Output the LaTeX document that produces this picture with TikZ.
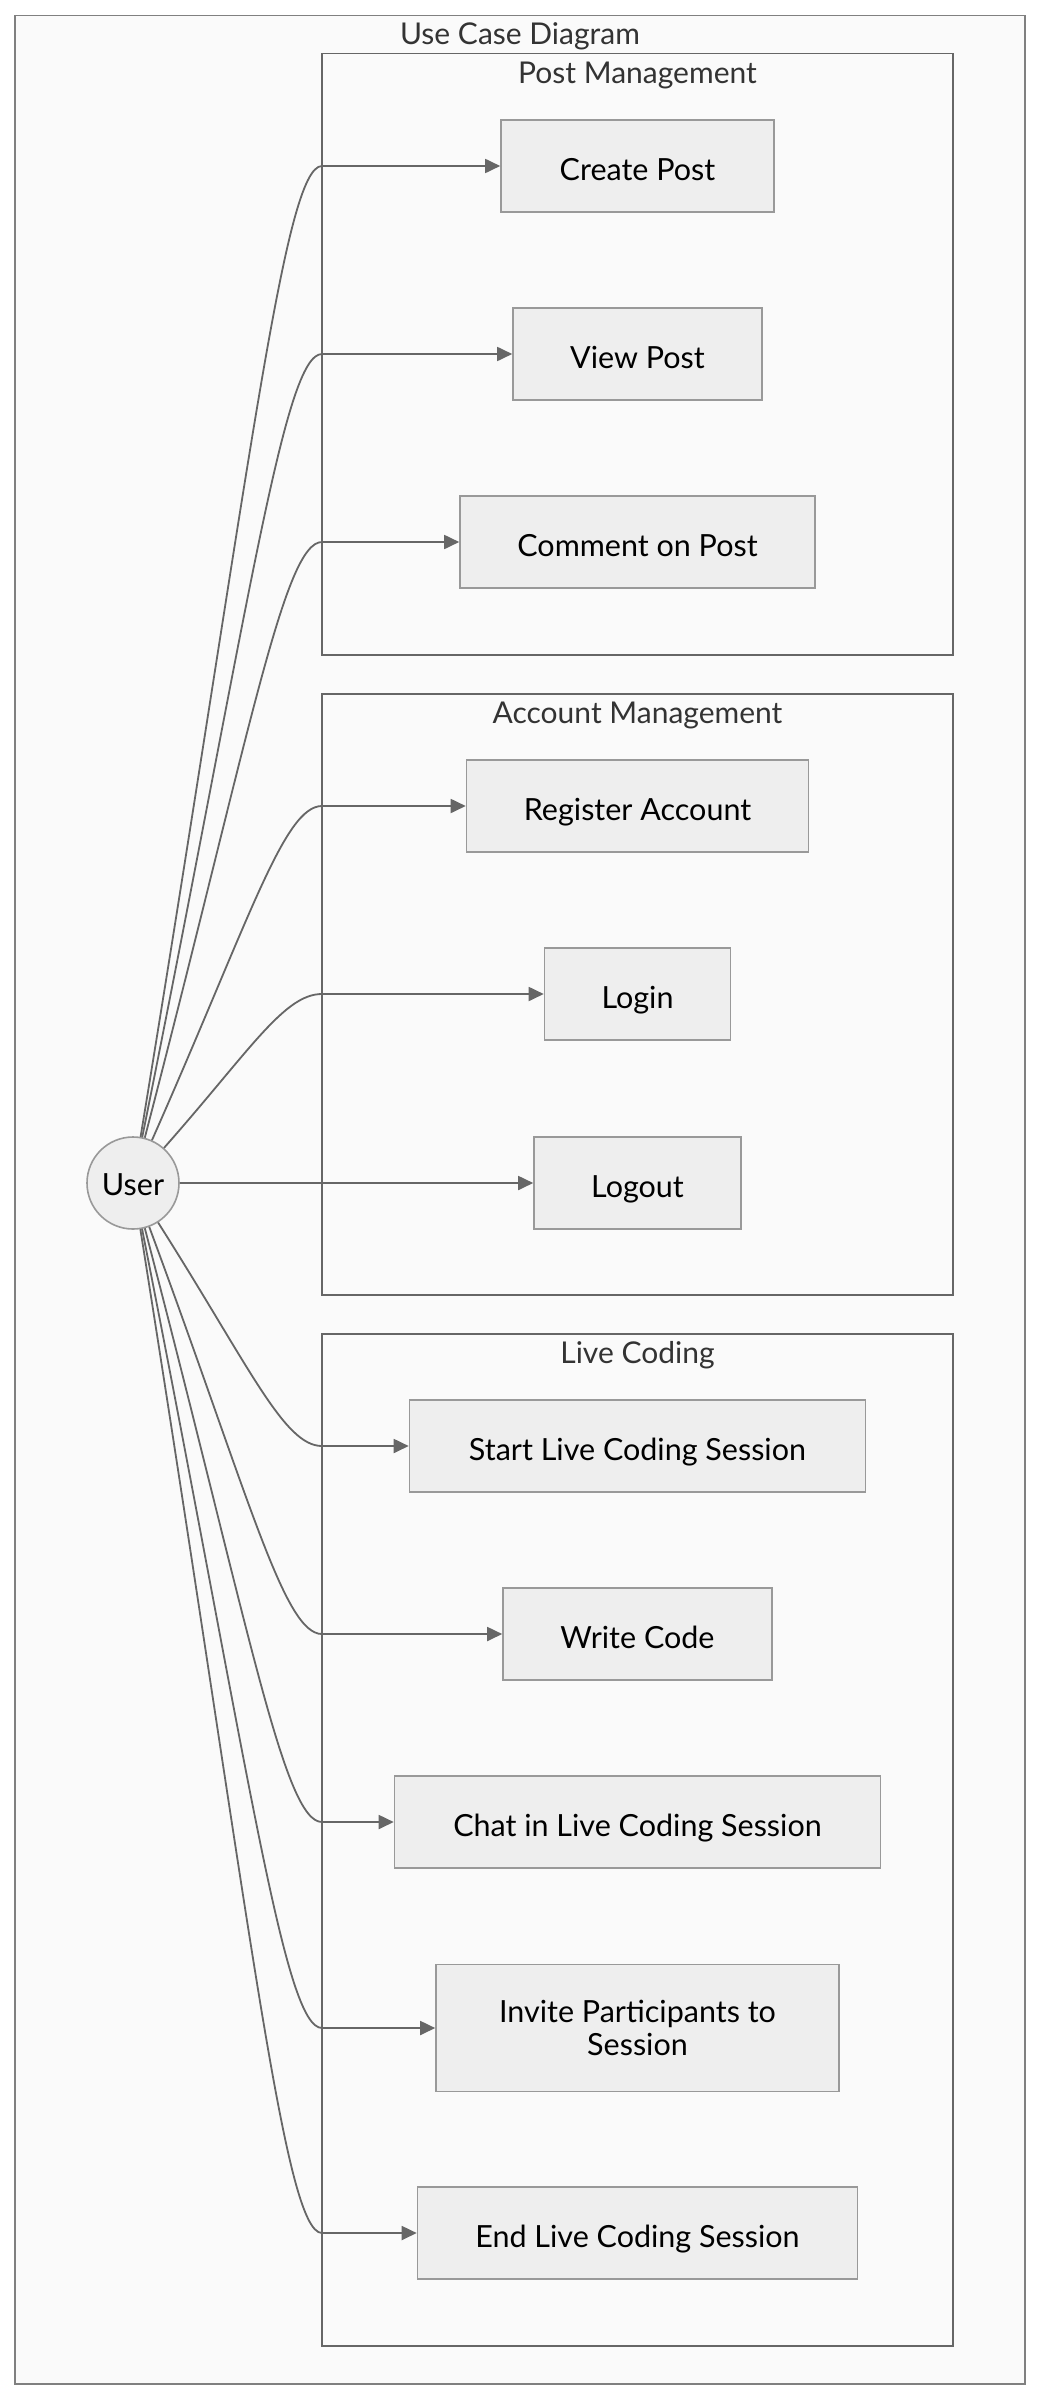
\documentclass[tikz,border=0pt]{standalone}
\usepackage{fontspec}
\setmainfont{Lato}
\usetikzlibrary{arrows.meta,calc}
\definecolor{bgc}{HTML}{FAFAFA}
\definecolor{nodefill}{HTML}{EEEEEE}
\definecolor{nodeline}{HTML}{999999}
\definecolor{clusline}{HTML}{666666}
\definecolor{framec}{HTML}{808080}
\definecolor{edgec}{HTML}{666666}
\definecolor{titlec}{HTML}{333333}
\tikzset{
  usecase/.style={draw=nodeline, fill=nodefill, line width=1.6pt, minimum height=92pt, inner sep=0pt, align=center, font=\fontsize{30.5}{33}\selectfont, text=black},
  oneline/.style={text height=32pt, text depth=3pt},
  actor/.style={circle, draw=nodeline, fill=nodefill, line width=1.6pt, minimum size=92pt, inner sep=0pt, font=\fontsize{30.5}{33}\selectfont, text height=27pt, text depth=3pt},
  cluster/.style={draw=clusline, fill=bgc, line width=1.6pt},
  ctitle/.style={font=\fontsize{30}{33}\selectfont, text=titlec, anchor=base, inner sep=0pt},
  edge/.style={draw=edgec, line width=1.8pt, -{Triangle[length=15pt,width=14pt]}}
}
\begin{document}
\begin{tikzpicture}[x=1pt,y=-1pt]
\useasboundingbox (0,0) rectangle (1040,2400);
\fill[white] (0,0) rectangle (1040,2400);
\draw[cluster, draw=framec] (15,15.5) rectangle (1025,2384);
\node[ctitle] (t0) at (520,45) {Use Case Diagram};
% clusters
\draw[cluster] (322,53.5) rectangle (953,655);
\node[ctitle] (t1) at (637.5,83.5) {Post Management};
\draw[cluster] (322,694) rectangle (953,1295);
\node[ctitle] (t2) at (637.5,723.5) {Account Management};
\draw[cluster] (322,1334) rectangle (953,2346);
\node[ctitle] (t3) at (637.5,1363.5) {Live Coding};
% nodes
\node[actor] (user) at (133,1183) {User};
\node[usecase, oneline, minimum width=273pt] (create) at (637.5,166) {Create Post};
\node[usecase, oneline, minimum width=249pt] (view) at (637.5,354) {View Post};
\node[usecase, oneline, minimum width=355pt] (comment) at (637.5,542) {Comment on Post};
\node[usecase, oneline, minimum width=342pt] (register) at (637.5,806) {Register Account};
\node[usecase, oneline, minimum width=186pt] (login) at (637.5,994) {Login};
\node[usecase, oneline, minimum width=207pt] (logout) at (637.5,1183) {Logout};
\node[usecase, oneline, minimum width=456pt] (start) at (637.5,1446) {Start Live Coding Session};
\node[usecase, oneline, minimum width=269pt] (write) at (637.5,1634) {Write Code};
\node[usecase, oneline, minimum width=486pt] (chat) at (637.5,1822) {Chat in Live Coding Session};
\node[usecase, minimum width=403pt, minimum height=127pt] (invite) at (637.5,2028) {Invite Participants to\\Session};
\node[usecase, oneline, minimum width=440pt] (end) at (637.5,2233) {End Live Coding Session};
% edges
\foreach \n/\y in {create/166, view/354, comment/542, register/806, login/994, start/1446, write/1634, chat/1822, invite/2028, end/2233}{
  \draw[edge] (user) .. controls ($(user)!0.7!(300,\y)$) and (284,\y) .. (322,\y) -- (\n.west);
}
\draw[edge] (user) -- (logout);
\end{tikzpicture}
\end{document}
